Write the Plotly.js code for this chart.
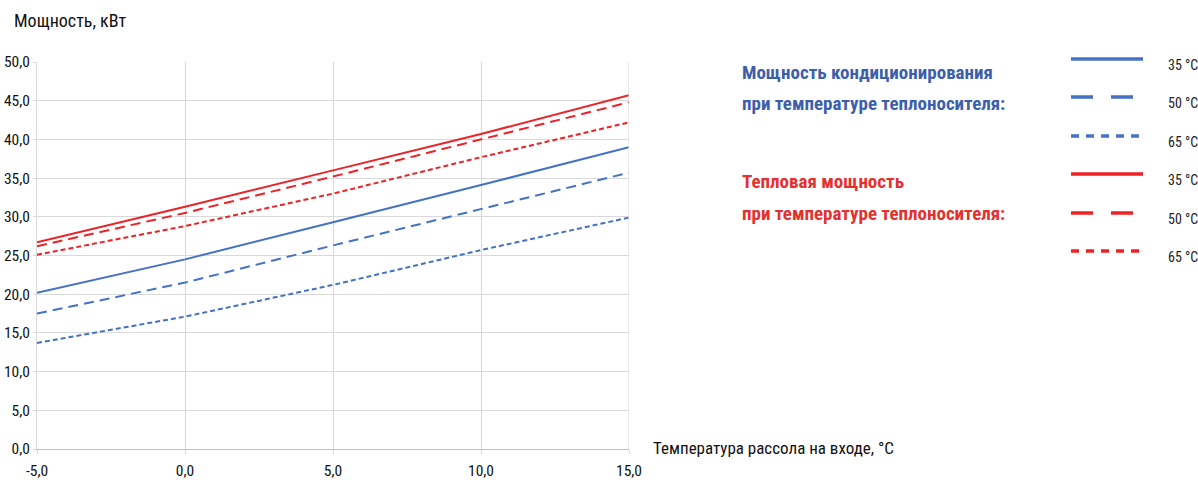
<!DOCTYPE html>
<html><head><meta charset="utf-8">
<script src="https://cdn.plot.ly/plotly-3.0.1.min.js"></script>
<style>html,body{margin:0;padding:0;background:#fff}#c{width:1198px;height:480px}</style>
</head><body><div id="c"></div>
<script>
var brineTemp = [-5, 0, 5, 10, 15];
var cool35 = [20.2, 24.5, 29.3, 34.1, 39.0];
var cool50 = [17.5, 21.5, 26.3, 31.0, 35.7];
var cool65 = [13.7, 17.1, 21.2, 25.7, 29.9];
var heat35 = [26.7, 31.3, 36.0, 40.7, 45.7];
var heat50 = [26.2, 30.5, 35.2, 40.0, 44.8];
var heat65 = [25.1, 28.8, 33.0, 37.7, 42.2];
var seriesNames = ['35 °C', '50 °C', '65 °C'];
var xTicks = [-5, 0, 5, 10, 15];
var xTickLabels = ['-5,0', '0,0', '5,0', '10,0', '15,0'];
var yTicks = [0, 5, 10, 15, 20, 25, 30, 35, 40, 45, 50];

var BLUE = '#4472C4', RED = '#EC2227';
var BLUE_T = '#3D5FAB', RED_T = '#E4312F';
var FONT = '"Liberation Sans Narrow", "Roboto Condensed", Roboto, "DejaVu Sans Condensed", sans-serif';
var dashes = ['solid', '10px,6px', '5px,3px'];
var legDashes = ['solid', '22px,18px', '8px,7px'];

var L = 37, R = 629, T = 62, B = 449;
function px(x){ return (x - L) / (R - L); }
function py(y){ return (B - y) / (B - T); }

function tr(y, color, i){
  return {x: brineTemp, y: y, mode: 'lines', name: seriesNames[i], showlegend: false,
    line: {color: color, width: 2, dash: dashes[i]}, hoverinfo: 'x+y'};
}
var data = [
  tr(cool35, BLUE, 0), tr(cool50, BLUE, 1), tr(cool65, BLUE, 2),
  tr(heat35, RED, 0), tr(heat50, RED, 1), tr(heat65, RED, 2)
];

var shapes = [], annotations = [];
var legY = [59, 97, 136, 174, 213, 251];
var legCol = [BLUE, BLUE, BLUE, RED, RED, RED];
for (var k = 0; k < 6; k++) {
  shapes.push({type: 'line', xref: 'paper', yref: 'paper',
    x0: px(1071), x1: px(1143), y0: py(legY[k]), y1: py(legY[k]),
    line: {color: legCol[k], width: 3.5, dash: legDashes[k % 3]}});
  annotations.push({xref: 'paper', yref: 'paper', x: px(1166), y: py(legY[k] + 6),
    xanchor: 'left', yanchor: 'middle', showarrow: false, text: seriesNames[k % 3],
    font: {family: FONT, size: 14, color: '#222'}});
}
var heads = [
  ['Мощность кондиционирования', 72, BLUE_T],
  ['при температуре теплоносителя:', 103, BLUE_T],
  ['Тепловая мощность', 181, RED_T],
  ['при температуре теплоносителя:', 213, RED_T]
];
heads.forEach(function(h){
  annotations.push({xref: 'paper', yref: 'paper', x: px(740), y: py(h[1]),
    xanchor: 'left', yanchor: 'middle', showarrow: false, text: '<b>' + h[0] + '</b>',
    font: {family: FONT, size: 19, color: h[2]}});
});
annotations.push({xref: 'paper', yref: 'paper', x: px(12), y: py(20),
  xanchor: 'left', yanchor: 'middle', showarrow: false, text: 'Мощность, кВт',
  font: {family: FONT, size: 18, color: '#111'}});
annotations.push({xref: 'paper', yref: 'paper', x: px(651), y: py(448),
  xanchor: 'left', yanchor: 'middle', showarrow: false, text: 'Температура рассола на входе, °C',
  font: {family: FONT, size: 17, color: '#111'}});

var layout = {
  width: 1198, height: 480,
  margin: {l: L, r: 1198 - R, t: T, b: 480 - B, pad: 0},
  paper_bgcolor: '#fff', plot_bgcolor: '#fff',
  separators: ', ',
  font: {family: FONT, size: 15, color: '#111'},
  xaxis: {range: [-5, 15], tickvals: xTicks, ticktext: xTickLabels, showgrid: true,
    gridcolor: '#D9D9D9', gridwidth: 1, zeroline: false, showline: true, linecolor: '#BFBFBF',
    linewidth: 1, mirror: false, ticks: 'outside', ticklen: 4, tickcolor: '#D9D9D9',
    ticklabelstandoff: 3,
    tickfont: {family: FONT, size: 15.5, color: '#111'}, fixedrange: true},
  yaxis: {range: [0, 50], tickvals: yTicks, tickformat: '.1f', showgrid: true,
    gridcolor: '#D9D9D9', gridwidth: 1, zeroline: false, showline: true, linecolor: '#D9D9D9',
    ticks: 'outside', ticklen: 3, tickcolor: '#D9D9D9',
    tickfont: {family: FONT, size: 15.5, color: '#111'}, fixedrange: true},
  shapes: shapes.concat([{type: 'line', xref: 'x', yref: 'paper', x0: 15, x1: 15, y0: 0, y1: 1,
    line: {color: '#D9D9D9', width: 1}}]),
  annotations: annotations,
  showlegend: false
};
Plotly.newPlot('c', data, layout, {displayModeBar: false, staticPlot: true});
</script></body></html>
